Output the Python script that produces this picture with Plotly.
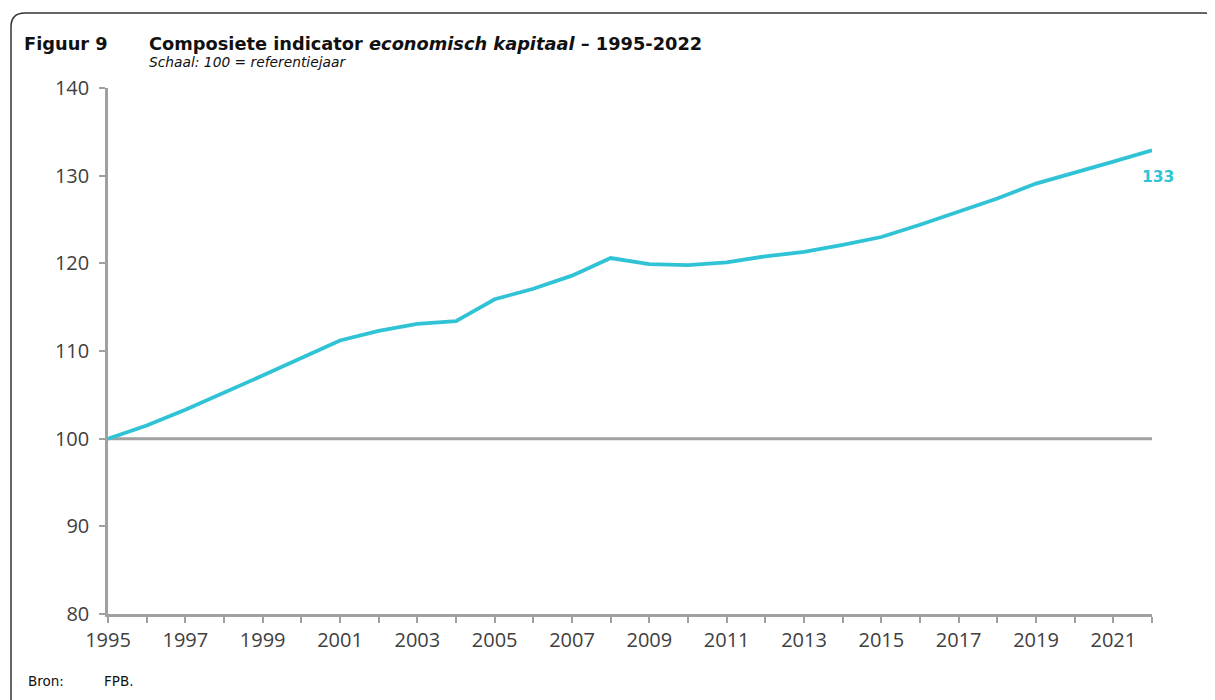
import plotly.graph_objects as go

years = list(range(1995, 2023))
values = [100.0, 101.5, 103.3, 105.2, 107.2, 109.2, 111.2, 112.3, 113.1, 113.4,
          115.9, 117.1, 118.6, 120.6, 119.9, 119.8, 120.1, 120.8, 121.3, 122.1,
          123.0, 124.4, 125.9, 127.4, 129.1, 130.3, 131.6, 132.9]
xtick_vals = years
xtick_text = [str(y) if (y - 1995) % 2 == 0 else "" for y in years]
ytick_vals = [80, 90, 100, 110, 120, 130, 140]

# page has an 8px body margin; work in page pixels and convert
OFF = 8
W, H = 1215 - OFF, 700 - OFF
L, R, T, B = 108 - OFF, 1215 - 1152, 88 - OFF, 700 - 614
PW, PH = W - L - R, H - T - B

def px(x):
    return (x - OFF - L) / PW

def py(y):
    return (H - B - (y - OFF)) / PH

LINE = "#30c3d6"
AXIS = "#a0a0a0"
TXT = "#404040"

fig = go.Figure()
fig.add_trace(go.Scatter(x=years, y=values, mode="lines",
                         line=dict(color=LINE, width=3.8), showlegend=False,
                         hoverinfo="x+y"))

# reference line at 100
fig.add_shape(type="line", xref="x", yref="y", x0=years[0], x1=years[-1], y0=100, y1=100,
              line=dict(color=AXIS, width=3), layer="below")

# frame border (top + left with rounded corner)
path = (f"M {px(11)},{py(702)} L {px(11)},{py(27)} Q {px(11)},{py(13)} {px(25)},{py(13)} "
        f"L {px(1205)},{py(13)} Q {px(1211)},{py(13)} {px(1215)},{py(19)}")
fig.add_shape(type="path", xref="paper", yref="paper", path=path,
              line=dict(color="#333333", width=1.5))

ann = []
ann.append(dict(text="<b>Figuur 9</b>", x=px(22), y=py(44), xref="paper", yref="paper",
                xanchor="left", yanchor="middle", showarrow=False,
                font=dict(family="DejaVu Sans", size=17.8, color="#111111")))
ann.append(dict(text="<b>Composiete indicator <i>economisch kapitaal</i> – 1995-2022</b>",
                x=px(147), y=py(44), xref="paper", yref="paper",
                xanchor="left", yanchor="middle", showarrow=False,
                font=dict(family="DejaVu Sans", size=17.8, color="#111111")))
ann.append(dict(text="<i>Schaal: 100 = referentiejaar</i>", x=px(147), y=py(62),
                xref="paper", yref="paper", xanchor="left", yanchor="middle", showarrow=False,
                font=dict(family="DejaVu Sans", size=13.8, color="#111111")))
ann.append(dict(text="Bron:", x=px(26), y=py(681), xref="paper", yref="paper",
                xanchor="left", yanchor="middle", showarrow=False,
                font=dict(family="DejaVu Sans", size=13.5, color="#111111")))
ann.append(dict(text="FPB.", x=px(102), y=py(681), xref="paper", yref="paper",
                xanchor="left", yanchor="middle", showarrow=False,
                font=dict(family="DejaVu Sans", size=13.5, color="#111111")))
ann.append(dict(text=f"<b>{round(values[-1])}</b>", x=years[-1], y=values[-1],
                xref="x", yref="y", xanchor="center", yanchor="middle", showarrow=False,
                xshift=6, yshift=-27,
                font=dict(family="DejaVu Sans", size=15.5, color=LINE)))

fig.update_layout(
    width=W, height=H,
    margin=dict(l=L, r=R, t=T, b=B, pad=0),
    paper_bgcolor="white", plot_bgcolor="white",
    annotations=ann,
    xaxis=dict(range=[years[0], years[-1]], tickmode="array", tickvals=xtick_vals,
               ticktext=xtick_text, showgrid=False, zeroline=False,
               showline=True, linecolor=AXIS, linewidth=2.5,
               ticks="outside", ticklen=6, tickwidth=2, tickcolor=AXIS,
               tickfont=dict(family="Open Sans", size=20, color=TXT)),
    yaxis=dict(range=[80, 140], tickmode="array", tickvals=ytick_vals,
               showgrid=False, zeroline=False,
               showline=True, linecolor=AXIS, linewidth=2.5,
               ticks="outside", ticklen=6, tickwidth=2, tickcolor=AXIS,
               ticklabelstandoff=6,
               tickfont=dict(family="Open Sans", size=20, color=TXT)),
)

fig.write_html("out.html")
